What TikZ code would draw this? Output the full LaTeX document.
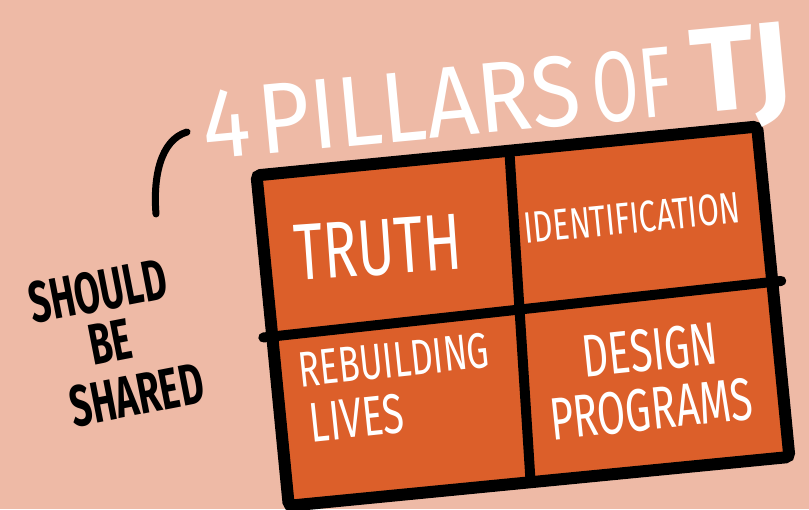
\documentclass[tikz,border=0pt]{standalone}
\usepackage{fontspec}
\newfontfamily\handfont{Fira Sans}
\definecolor{paper}{RGB}{238,186,166}
\definecolor{pillarfill}{RGB}{220,95,42}

\begin{document}
\begin{tikzpicture}[
  x=1pt,y=-1pt,
  frame/.style={draw=black,line width=12pt,fill=pillarfill,rounded corners=4pt},
  divider/.style={draw=black,line width=10pt,line cap=round},
  brace/.style={draw=black,line width=7pt,line cap=round},
  title/.style={font={\handfont\fontsize{100}{100}\selectfont},text=white,inner sep=0pt},
  pillar/.style={font={\handfont\fontsize{#1}{#1}\selectfont},text=white,inner sep=0pt},
  note/.style={font={\handfont\bfseries\fontsize{58}{58}\selectfont},text=black,inner sep=0pt,rotate=11,xscale=0.64},
]
\fill[paper] (0,0) rectangle (809,509);
\useasboundingbox (0,0) rectangle (809,509);
% grid of the four pillars
\begin{scope}[shift={(250,170)},rotate=5.57]
  \draw[frame] (6,6) rectangle (509,338);
  \coordinate (topmid) at (260,6);
  \coordinate (bottommid) at (249,338);
  \coordinate (leftmid) at (-3,168);
  \coordinate (rightmid) at (518,162);
\end{scope}
\draw[divider] (topmid) -- (bottommid);
\draw[divider] (leftmid) -- (rightmid);
% title
\node[title,anchor=base west,rotate=5.4,xscale=0.9] (title) at (205,160)
  {4\hspace{10pt}PILLARS\hspace{14pt}\scalebox{0.75}[1]{OF}\hspace{22pt}\scalebox{1.1}[1]{\fontsize{120}{120}\selectfont\bfseries TJ}};
% cells
\node[pillar=80,rotate=4,xscale=0.7] (truth) at (378,248) {TRUTH};
\node[pillar=44,rotate=5.6,xscale=0.7] (ident) at (632,218) {IDENTIFICATION};
\node[pillar=50,rotate=6,xscale=0.7] (rebuild) at (394,360) {REBUILDING};
\node[pillar=56,rotate=6,xscale=0.7] (lives) at (357,418) {LIVES};
\node[pillar=60,rotate=6,xscale=0.68] (design) at (650,350) {DESIGN};
\node[pillar=60,rotate=6,xscale=0.68] (programs) at (651,409) {PROGRAMS};
% side note
\node[note] (should) at (98,291) {SHOULD};
\node[note] (be) at (110,342) {BE};
\node[note] (shared) at (137,395) {SHARED};
\coordinate (hookstart) at (156,214);
\coordinate (hookend) at (187,132);
\draw[brace] (hookstart) .. controls (153,178) and (160,140) .. (hookend);
\end{tikzpicture}
\end{document}
